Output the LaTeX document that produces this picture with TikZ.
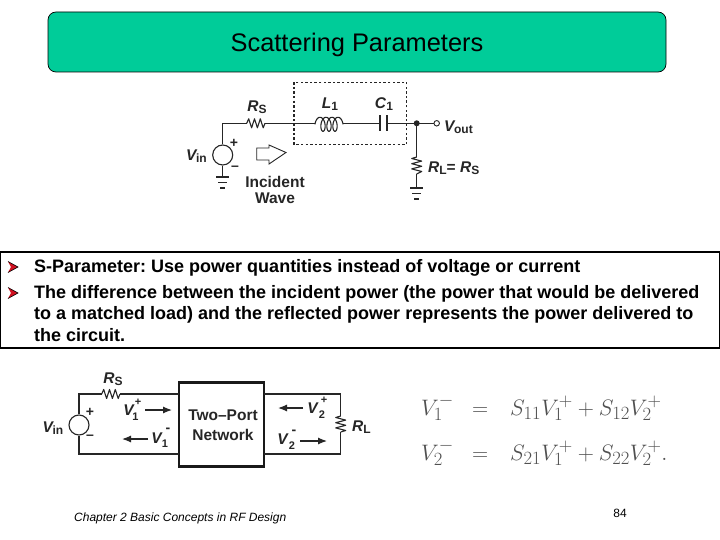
\documentclass[tikz,border=0pt]{standalone}
\usepackage{fontspec}
\setmainfont{Liberation Sans}
\usetikzlibrary{arrows.meta,calc}
\frenchspacing
\definecolor{titlegreen}{HTML}{00CC99}
\definecolor{bulletred}{HTML}{D01020}
\definecolor{eqgray}{HTML}{505050}
\newcommand{\bi}[1]{\textbf{\textit{#1}}}
\newcommand{\sbs}[1]{\raisebox{-2pt}{\fontsize{12}{12}\selectfont\bfseries #1}}
\newcommand{\eqs}[1]{\scalebox{0.90}{$#1$}}
\tikzset{
  wire/.style={line width=1.1pt,black!85},
  res/.style={line width=1.1pt,black!85,line join=round},
  lab/.style={inner sep=0pt,font=\fontsize{15.5}{15.5}\selectfont\bfseries,text=black!85},
  body/.style={inner sep=0pt,anchor=base west,font=\fontsize{18}{18}\selectfont\bfseries},
  sign/.style={inner sep=0pt,font=\fontsize{14}{14}\selectfont\bfseries,text=black!85},
  subs/.style={inner sep=0pt,font=\fontsize{11}{11}\selectfont\bfseries,text=black!85},
  src/.style={circle,draw=black!85,line width=1.1pt,minimum size=20pt,inner sep=0pt},
  bar/.style={line width=1.8pt,black!85},
  flow/.style={line width=1.2pt,black!85,-{Latex[length=9pt,width=7pt]}},
  eq/.style={inner sep=0pt,anchor=base west,text=eqgray,font=\fontsize{24.88}{24.88}\selectfont},
}
\newcommand{\hzig}[2]{% horizontal resistor between named coordinates
  \draw[res] (#1) -- ++(2,-4.5) -- ++(2.9,9) -- ++(2.9,-9) -- ++(2.9,9) -- ++(2.9,-9) -- ++(2.9,9) -- (#2);}
\newcommand{\vzig}[2]{% vertical resistor
  \draw[res] (#1) -- ++(-5,1.5) -- ++(10,2.6) -- ++(-10,2.6) -- ++(10,2.6) -- ++(-10,2.6) -- ++(10,2.6) -- (#2);}
\newcommand{\grnd}[1]{%
  \draw[bar] ($(#1)+(-6.5,0)$) -- ($(#1)+(6.5,0)$);
  \draw[bar] ($(#1)+(-4.5,5.5)$) -- ($(#1)+(4.5,5.5)$);
  \draw[bar] ($(#1)+(-2.5,11)$) -- ($(#1)+(2.5,11)$);}
\newcommand{\bul}[2]{%
  \fill[bulletred] (#1,#2-5.5) -- (#1+10,#2) -- (#1,#2+5.5) -- (#1+3,#2) -- cycle;
  \draw[black,line width=0.6pt] (#1,#2-5.5) -- (#1+10,#2) -- (#1,#2+5.5);}
\begin{document}
\begin{tikzpicture}[x=1pt,y=-1pt]
\useasboundingbox (0,0) rectangle (720,540);
\fill[white] (0,0) rectangle (720,540);

% title
\node[draw=black,line width=0.7pt,fill=titlegreen,rounded corners=8pt,minimum width=618pt,minimum height=60pt,inner sep=0pt] (titlebox) at (357,42) {};
\node[inner sep=0pt,font=\fontsize{25.4}{25.4}\selectfont] (title) at (357,44.5) {Scattering Parameters};

% upper circuit
\coordinate (a0) at (222.7,123.3);
\coordinate (r1) at (246.7,123.3);
\coordinate (r2) at (265,123.3);
\coordinate (l1) at (315,123.3);
\coordinate (l2) at (343,123.3);
\coordinate (c1) at (380,123.3);
\coordinate (c2) at (386.7,123.3);
\coordinate (j) at (416.7,123.3);
\node[circle,draw=black!85,line width=0.9pt,fill=white,minimum size=5.5pt,inner sep=0pt] (vo) at (436.7,123.3) {};
\node[src] (s1) at (222.7,155) {};
\coordinate (g1) at (222.7,177);
\coordinate (rl1) at (416.7,157);
\coordinate (rl2) at (416.7,174);
\coordinate (g2) at (416.7,188);
\draw[wire] (s1) -- (a0) -- (r1);
\hzig{r1}{r2}
\draw[wire] (r2) -- (l1);
\draw[wire,domain=90:1350,samples=220,smooth] plot ({318.5+(\x-90)/1260*21-3.5*sin(\x)},{124.3+7*cos(\x)});
\draw[wire] (l2) -- (c1);
\draw[line width=2.2pt,black!85] (380,115.5) -- (380,131);
\draw[line width=2.2pt,black!85] (386.7,115.5) -- (386.7,131);
\draw[wire] (c2) -- (j) -- (vo);
\fill[black!85] (j) circle (3pt);
\draw[wire] (j) -- (rl1);
\vzig{rl1}{rl2}
\draw[wire] (rl2) -- (g2);
\draw[wire] (s1) -- (g1);
\grnd{g1}
\grnd{g2}
\draw[line width=1.3pt,black!85,dash pattern=on 2.4pt off 2.2pt] (294,82.3) rectangle (406.7,144.3);
\draw[line width=0.9pt,black!85] (256.7,148) -- (269,148) -- (269,145) -- (286,152.5) -- (269,164) -- (269,160) -- (256.7,160) -- cycle;
\node[lab] (n1) at (257,107) {\bi{R}\sbs{S}};
\node[lab] (n2) at (330,104) {\bi{L}\sbs{1}};
\node[lab] (n3) at (384,104) {\bi{C}\sbs{1}};
\node[lab,anchor=west] (n4) at (444,127) {\bi{V}\kern-1.5pt\sbs{out}};
\node[lab,anchor=east] (n5) at (207,156) {\bi{V}\kern-1.5pt\sbs{in}};
\node[lab,anchor=west] (n6) at (428,168) {\bi{R}\sbs{L}= \bi{R}\sbs{S}};
\node[sign] (p1) at (234,143) {+};
\node[sign] (m1) at (235,168) {–};
\node[lab] (n7) at (275,182) {Incident};
\node[lab] (n8) at (275,198) {Wave};

% text box
\node[draw=black,line width=1.3pt,minimum width=719pt,minimum height=96pt,inner sep=0pt] (tbox) at (360,300) {};
\bul{8}{267}
\bul{8}{293}
\node[body] (t1) at (34,272.5) {S-Parameter: Use power quantities instead of voltage or current};
\node[body] (t2) at (34,298.3) {The difference between the incident power (the power that would be delivered};
\node[body] (t3) at (34,319.5) {to a matched load) and the reflected power represents the power delivered to};
\node[body] (t4) at (34,341) {the circuit.};

% lower circuit
\node[draw=black!90,line width=2.6pt,minimum width=85pt,minimum height=84pt,inner sep=0pt] (tp) at (221.5,424.7) {};
\node[lab] (tp1) at (223,415) {Two–Port};
\node[lab] (tp2) at (223,435) {Network};
\node[src] (s2) at (79,425) {};
\coordinate (tl) at (79,394);
\coordinate (bl) at (79,454);
\coordinate (q1) at (101.7,394);
\coordinate (q2) at (120,394);
\coordinate (a1) at (179,394);
\coordinate (a2) at (179,454);
\coordinate (a3) at (264,394);
\coordinate (a4) at (264,454);
\coordinate (tr) at (340.7,394);
\coordinate (br) at (340.7,454);
\coordinate (u1) at (340.7,416);
\coordinate (u2) at (340.7,432);
\draw[wire] (s2) -- (tl) -- (q1);
\hzig{q1}{q2}
\draw[wire] (q2) -- (a1);
\draw[wire] (s2) -- (bl) -- (a2);
\draw[wire] (a3) -- (tr) -- (u1);
\vzig{u1}{u2}
\draw[wire] (u2) -- (br) -- (a4);
\coordinate (f1) at (145,410); \coordinate (f2) at (172,410);
\coordinate (f3) at (148,439); \coordinate (f4) at (122,439);
\coordinate (f5) at (303,408); \coordinate (f6) at (278,408);
\coordinate (f7) at (300,441); \coordinate (f8) at (327,441);
\draw[flow] (f1) -- (f2);
\draw[flow] (f3) -- (f4);
\draw[flow] (f5) -- (f6);
\draw[flow] (f7) -- (f8);
\node[lab] (w1) at (113,379) {\bi{R}\sbs{S}};
\node[lab,anchor=east] (w2) at (63.5,428) {\bi{V}\kern-1.5pt\sbs{in}};
\node[lab,anchor=west] (w3) at (352,427) {\bi{R}\sbs{L}};
\node[sign] (p2) at (90,412) {+};
\node[sign] (m2) at (90,437) {–};
\node[lab] (w4) at (129,410) {\bi{V}};
\node[lab] (w5) at (157,438) {\bi{V}};
\node[lab] (w6) at (313,408) {\bi{V}};
\node[lab] (w7) at (283,439) {\bi{V}};
\node[subs] (i1) at (135.5,417) {1};
\node[subs] (i2) at (165,444) {1};
\node[subs] (i3) at (322,415) {2};
\node[subs] (i4) at (292,446) {2};
\node[subs] (i5) at (138,402) {+};
\node[sign] (i6) at (168,430) {-};
\node[subs] (i7) at (324,400) {+};
\node[sign] (i8) at (294,432) {-};

% equations
\node[eq] (e1) at (421,415) {\eqs{V_1^-}};
\node[eq] (e2) at (472,415) {\eqs{=}};
\node[eq] (e3) at (510,415) {\eqs{S_{11}V_1^+ + S_{12}V_2^+}};
\node[eq] (e4) at (421,460) {\eqs{V_2^-}};
\node[eq] (e5) at (472,460) {\eqs{=}};
\node[eq] (e6) at (510,460) {\eqs{S_{21}V_1^+ + S_{22}V_2^+.}};

% footer
\node[inner sep=0pt,anchor=base west,font=\fontsize{12}{12}\selectfont\itshape] (foot) at (74,521.5) {Chapter 2 Basic Concepts in RF Design};
\node[inner sep=0pt,font=\fontsize{12}{12}\selectfont] (page) at (620,513) {84};
\end{tikzpicture}
\end{document}
